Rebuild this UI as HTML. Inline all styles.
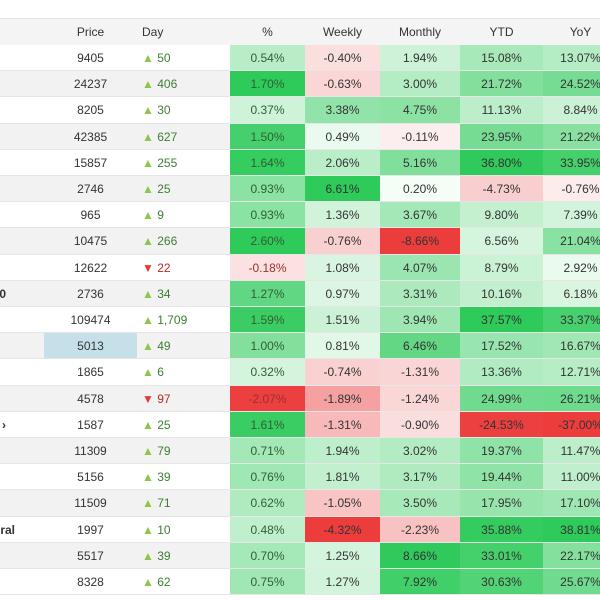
<!DOCTYPE html>
<html><head><meta charset="utf-8"><style>
body{margin:0;width:600px;height:600px;overflow:hidden;background:#fff;font-family:"Liberation Sans",Arial,sans-serif;font-size:12px;color:#333}
#wrap{position:relative;width:600px;height:600px;overflow:hidden}
.row{position:absolute;left:0;width:700px;height:26px}
.c{position:absolute;top:0;height:100%;line-height:26px;text-align:center;box-sizing:border-box;white-space:nowrap}
.hdr{background:#f4f4f4;border-top:1px solid #e2e2e2;border-bottom:1px solid #e6e6e6}
.up{color:#8dc64a}.dn{color:#e53935}
</style></head><body>
<div id="wrap">
<div class="row hdr" style="top:18px;height:27px">
 <div class="c" style="left:44px;width:93px">Price</div>
 <div class="c" style="left:142px;width:80px;text-align:left">Day</div>
 <div class="c" style="left:230px;width:75px">%</div>
 <div class="c" style="left:305px;width:75px">Weekly</div>
 <div class="c" style="left:380px;width:80px">Monthly</div>
 <div class="c" style="left:460px;width:83px">YTD</div>
 <div class="c" style="left:543px;width:75px">YoY</div>
</div>
</div>
<script>
const names=["","","","","","","","","","0","","","","","›","","","","eral","",""];
const prices=[9405,24237,8205,42385,15857,2746,965,10475,12622,2736,109474,5013,1865,4578,1587,11309,5156,11509,1997,5517,8328];
const dayChg=["50","406","30","627","255","25","9","266","-22","34","1,709","49","6","-97","25","79","39","71","10","39","62"];
const pct=[0.54,1.70,0.37,1.50,1.64,0.93,0.93,2.60,-0.18,1.27,1.59,1.00,0.32,-2.07,1.61,0.71,0.76,0.62,0.48,0.70,0.75];
const weekly=[-0.40,-0.63,3.38,0.49,2.06,6.61,1.36,-0.76,1.08,0.97,1.51,0.81,-0.74,-1.89,-1.31,1.94,1.81,-1.05,-4.32,1.25,1.27];
const monthly=[1.94,3.00,4.75,-0.11,5.16,0.20,3.67,-8.66,4.07,3.31,3.94,6.46,-1.31,-1.24,-0.90,3.02,3.17,3.50,-2.23,8.66,7.92];
const ytd=[15.08,21.72,11.13,23.95,36.80,-4.73,9.80,6.56,8.79,10.16,37.57,17.52,13.36,24.99,-24.53,19.37,19.44,17.95,35.88,33.01,30.63];
const yoy=[13.07,24.52,8.84,21.22,33.95,-0.76,7.39,21.04,2.92,6.18,33.37,16.67,12.71,26.21,-37.00,11.47,11.00,17.10,38.81,22.17,25.67];
const cols=[{v:pct,l:230,w:75,p:1.7,n:2.1,name:'pct',tint:true},{v:weekly,l:305,w:75,p:6.6,n:4.3,name:'weekly'},{v:monthly,l:380,w:80,p:8.7,n:8.7,name:'monthly'},{v:ytd,l:460,w:83,p:37,n:25,name:'ytd'},{v:yoy,l:543,w:75,p:38,n:37,name:'yoy'}];
function col(v,p,n){
 if(v>=0){const t=Math.min(1,v/p);return `rgb(${Math.round(250-(250-46)*t)},${Math.round(254-(254-202)*t)},${Math.round(251-(251-90)*t)})`;}
 const t=Math.min(1,-v/n);return `rgb(${Math.round(252-(252-236)*t)},${Math.round(240-(240-60)*t)},${Math.round(240-(240-60)*t)})`;
}
const wrap=document.getElementById('wrap');
const top0=45,rh=26.2;
prices.forEach((pr,i)=>{
 const r=document.createElement('div');r.className='row';
 
 
 r.style.top=(top0+i*rh)+'px';r.style.height=rh+'px';
 r.style.background=i%2?'#f2f2f2':'#fff';r.style.borderBottom='1px solid #e6e6e6';r.style.boxSizing='border-box';
 let h=`<div class="c" style="left:-100px;width:144px;text-align:right;font-weight:bold;padding-right:${names[i]=='eral'?29:38}px">${names[i]}</div>`;
 h+=`<div class="c" style="left:44px;width:93px;${i==11?'background:#c6e0ea':''}">${pr}</div>`;
 const d=dayChg[i],neg=d[0]=='-';
 h+=`<div class="c" style="left:142px;width:85px;text-align:left;color:${neg?'#b52a2a':'#3d7d34'}"><span class="${neg?'dn':'up'}">${neg?'▼':'▲'}</span> ${neg?d.slice(1):d}</div>`;
 cols.forEach(c=>{const v=c.v[i];
  const tc=c.tint?(v<0?'#9a3030':'#2f5f34'):'#333';
  h+=`<div class="c" style="left:${c.l}px;width:${c.w}px;background:${col(v,c.p,c.n)};color:${tc}">${v.toFixed(2)}%</div>`;});
 r.innerHTML=h;wrap.appendChild(r);
});
</script>
</body></html>
